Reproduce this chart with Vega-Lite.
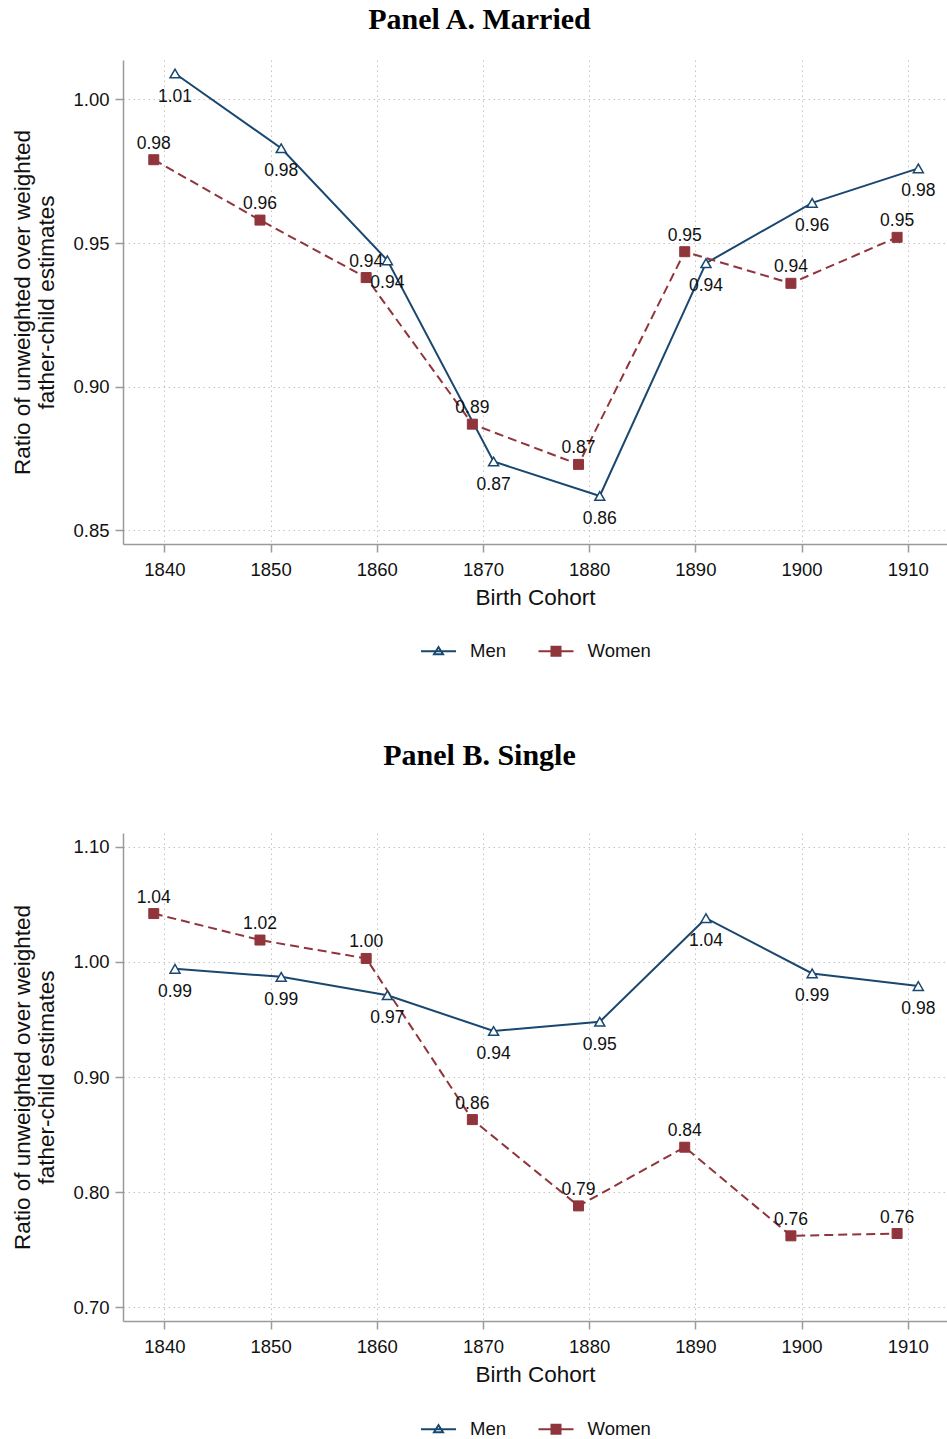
{
  "$schema": "https://vega.github.io/schema/vega-lite/v6.json",
  "padding": {"left": 11, "top": 5, "right": 0, "bottom": 0},
  "background": "white",
  "datasets": {
    "married": [
      {"cohort": 1841, "sex": "Men", "value": 1.009},
      {"cohort": 1851, "sex": "Men", "value": 0.983},
      {"cohort": 1861, "sex": "Men", "value": 0.944},
      {"cohort": 1871, "sex": "Men", "value": 0.874},
      {"cohort": 1881, "sex": "Men", "value": 0.862},
      {"cohort": 1891, "sex": "Men", "value": 0.943},
      {"cohort": 1901, "sex": "Men", "value": 0.964},
      {"cohort": 1911, "sex": "Men", "value": 0.976},
      {"cohort": 1839, "sex": "Women", "value": 0.979},
      {"cohort": 1849, "sex": "Women", "value": 0.958},
      {"cohort": 1859, "sex": "Women", "value": 0.938},
      {"cohort": 1869, "sex": "Women", "value": 0.887},
      {"cohort": 1879, "sex": "Women", "value": 0.873},
      {"cohort": 1889, "sex": "Women", "value": 0.947},
      {"cohort": 1899, "sex": "Women", "value": 0.936},
      {"cohort": 1909, "sex": "Women", "value": 0.952}
    ],
    "single": [
      {"cohort": 1841, "sex": "Men", "value": 0.994},
      {"cohort": 1851, "sex": "Men", "value": 0.987},
      {"cohort": 1861, "sex": "Men", "value": 0.971},
      {"cohort": 1871, "sex": "Men", "value": 0.940},
      {"cohort": 1881, "sex": "Men", "value": 0.948},
      {"cohort": 1891, "sex": "Men", "value": 1.038},
      {"cohort": 1901, "sex": "Men", "value": 0.990},
      {"cohort": 1911, "sex": "Men", "value": 0.979},
      {"cohort": 1839, "sex": "Women", "value": 1.042},
      {"cohort": 1849, "sex": "Women", "value": 1.019},
      {"cohort": 1859, "sex": "Women", "value": 1.003},
      {"cohort": 1869, "sex": "Women", "value": 0.863},
      {"cohort": 1879, "sex": "Women", "value": 0.788},
      {"cohort": 1889, "sex": "Women", "value": 0.839},
      {"cohort": 1899, "sex": "Women", "value": 0.762},
      {"cohort": 1909, "sex": "Women", "value": 0.764}
    ]
  },
  "config": {
    "font": "Liberation Sans",
    "view": {"stroke": null},
    "axis": {
      "labelFont": "Liberation Sans",
      "labelFontSize": 18.5,
      "labelColor": "#111111",
      "titleFont": "Liberation Sans",
      "titleFontSize": 22.5,
      "titleFontWeight": "normal",
      "titleColor": "#111111",
      "domainColor": "#9a9a9a",
      "domainWidth": 1.5,
      "tickColor": "#9a9a9a",
      "tickWidth": 1.5,
      "tickSize": 8,
      "labelPadding": 6,
      "gridColor": "#c4c4c4",
      "gridDash": [1.5, 3.5],
      "gridWidth": 1
    },
    "legend": {
      "labelFont": "Liberation Sans",
      "labelFontSize": 18.5,
      "labelColor": "#111111"
    },
    "title": {
      "font": "Liberation Serif",
      "fontSize": 30,
      "fontWeight": "bold",
      "color": "#000000",
      "anchor": "middle",
      "frame": "bounds"
    }
  },
  "resolve": {
    "scale": {"color": "independent", "shape": "independent", "fill": "independent"},
    "legend": {"color": "independent", "shape": "independent", "fill": "independent"}
  },
  "spacing": 80,
  "vconcat": [
    {
      "title": {"text": "Panel A. Married", "offset": 25},
      "width": 824,
      "height": 484,
      "data": {"name": "married"},
      "encoding": {
        "x": {
          "field": "cohort", "type": "quantitative",
          "scale": {"domain": [1836.1, 1913.7], "nice": false, "zero": false},
          "axis": {"values": [1840, 1850, 1860, 1870, 1880, 1890, 1900, 1910], "format": "d", "title": "Birth Cohort", "titlePadding": 8, "labelPadding": 8}
        },
        "y": {
          "field": "value", "type": "quantitative",
          "scale": {"domain": [0.8453, 1.0137], "nice": false, "zero": false},
          "axis": {"values": [0.85, 0.9, 0.95, 1.0], "format": ".2f", "title": ["Ratio of unweighted over weighted", "father-child estimates"], "titleLineHeight": 24, "titlePadding": 14}
        }
      },
      "layer": [
        {
          "transform": [{"filter": "datum.sex === 'Men'"}],
          "mark": {"type": "line", "strokeWidth": 2, "color": "#1a476f"}
        },
        {
          "transform": [{"filter": "datum.sex === 'Women'"}],
          "mark": {"type": "line", "strokeWidth": 2, "color": "#90353b", "strokeDash": [9, 5]}
        },
        {
          "transform": [{"filter": "datum.sex === 'Men'"}],
          "mark": {"type": "point", "shape": "triangle-up", "size": 100, "opacity": 1, "filled": true, "fill": "#ffffff", "stroke": "#1a476f", "strokeWidth": 1.5}
        },
        {
          "transform": [{"filter": "datum.sex === 'Women'"}],
          "mark": {"type": "point", "shape": "square", "size": 100, "opacity": 1, "filled": true, "fill": "#90353b", "stroke": "#90353b", "strokeWidth": 1}
        },
        {
          "transform": [{"filter": "datum.sex === 'Men'"}],
          "mark": {"type": "text", "dy": 23, "fontSize": 17.5, "font": "Liberation Sans", "color": "#111111"},
          "encoding": {"text": {"field": "value", "type": "quantitative", "format": ".2f"}}
        },
        {
          "transform": [{"filter": "datum.sex === 'Women'"}],
          "mark": {"type": "text", "dy": -16, "fontSize": 17.5, "font": "Liberation Sans", "color": "#111111"},
          "encoding": {"text": {"field": "value", "type": "quantitative", "format": ".2f"}}
        },
        {
          "transform": [{"filter": "false"}],
          "mark": {"type": "point", "opacity": 1, "filled": false},
          "encoding": {
            "color": {
              "field": "sex", "type": "nominal",
              "scale": {"domain": ["Men", "Women"], "range": ["#1a476f", "#90353b"]},
              "legend": {"title": null, "orient": "none", "direction": "horizontal", "legendX": 304.5, "legendY": 580, "symbolSize": 400, "symbolStrokeWidth": 2, "columnPadding": 27.5, "labelOffset": 20.5}
            },
            "shape": {
              "field": "sex", "type": "nominal",
              "scale": {"domain": ["Men", "Women"], "range": ["M-1.75,0H1.75M-0.45,0.3L0,-0.42L0.45,0.3Z", "M-1.75,0H1.75M-0.45,-0.45H0.45V0.45H-0.45Z"]},
              "legend": {"title": null, "orient": "none", "direction": "horizontal", "legendX": 304.5, "legendY": 580, "symbolSize": 400, "symbolStrokeWidth": 2, "columnPadding": 27.5, "labelOffset": 20.5}
            },
            "fill": {
              "field": "sex", "type": "nominal",
              "scale": {"domain": ["Men", "Women"], "range": ["#ffffff", "#90353b"]},
              "legend": {"title": null, "orient": "none", "direction": "horizontal", "legendX": 304.5, "legendY": 580, "symbolSize": 400, "symbolStrokeWidth": 2, "columnPadding": 27.5, "labelOffset": 20.5}
            }
          }
        }
      ]
    },
    {
      "title": {"text": "Panel B. Single", "offset": 62},
      "width": 824,
      "height": 488,
      "data": {"name": "single"},
      "encoding": {
        "x": {
          "field": "cohort", "type": "quantitative",
          "scale": {"domain": [1836.1, 1913.7], "nice": false, "zero": false},
          "axis": {"values": [1840, 1850, 1860, 1870, 1880, 1890, 1900, 1910], "format": "d", "title": "Birth Cohort", "titlePadding": 8, "labelPadding": 8}
        },
        "y": {
          "field": "value", "type": "quantitative",
          "scale": {"domain": [0.688, 1.112], "nice": false, "zero": false},
          "axis": {"values": [0.7, 0.8, 0.9, 1.0, 1.1], "format": ".2f", "title": ["Ratio of unweighted over weighted", "father-child estimates"], "titleLineHeight": 24, "titlePadding": 14}
        }
      },
      "layer": [
        {
          "transform": [{"filter": "datum.sex === 'Men'"}],
          "mark": {"type": "line", "strokeWidth": 2, "color": "#1a476f"}
        },
        {
          "transform": [{"filter": "datum.sex === 'Women'"}],
          "mark": {"type": "line", "strokeWidth": 2, "color": "#90353b", "strokeDash": [9, 5]}
        },
        {
          "transform": [{"filter": "datum.sex === 'Men'"}],
          "mark": {"type": "point", "shape": "triangle-up", "size": 100, "opacity": 1, "filled": true, "fill": "#ffffff", "stroke": "#1a476f", "strokeWidth": 1.5}
        },
        {
          "transform": [{"filter": "datum.sex === 'Women'"}],
          "mark": {"type": "point", "shape": "square", "size": 100, "opacity": 1, "filled": true, "fill": "#90353b", "stroke": "#90353b", "strokeWidth": 1}
        },
        {
          "transform": [{"filter": "datum.sex === 'Men'"}],
          "mark": {"type": "text", "dy": 23, "fontSize": 17.5, "font": "Liberation Sans", "color": "#111111"},
          "encoding": {"text": {"field": "value", "type": "quantitative", "format": ".2f"}}
        },
        {
          "transform": [{"filter": "datum.sex === 'Women'"}],
          "mark": {"type": "text", "dy": -16, "fontSize": 17.5, "font": "Liberation Sans", "color": "#111111"},
          "encoding": {"text": {"field": "value", "type": "quantitative", "format": ".2f"}}
        },
        {
          "transform": [{"filter": "false"}],
          "mark": {"type": "point", "opacity": 1, "filled": false},
          "encoding": {
            "color": {
              "field": "sex", "type": "nominal",
              "scale": {"domain": ["Men", "Women"], "range": ["#1a476f", "#90353b"]},
              "legend": {"title": null, "orient": "none", "direction": "horizontal", "legendX": 304.5, "legendY": 585, "symbolSize": 400, "symbolStrokeWidth": 2, "columnPadding": 27.5, "labelOffset": 20.5}
            },
            "shape": {
              "field": "sex", "type": "nominal",
              "scale": {"domain": ["Men", "Women"], "range": ["M-1.75,0H1.75M-0.45,0.3L0,-0.42L0.45,0.3Z", "M-1.75,0H1.75M-0.45,-0.45H0.45V0.45H-0.45Z"]},
              "legend": {"title": null, "orient": "none", "direction": "horizontal", "legendX": 304.5, "legendY": 585, "symbolSize": 400, "symbolStrokeWidth": 2, "columnPadding": 27.5, "labelOffset": 20.5}
            },
            "fill": {
              "field": "sex", "type": "nominal",
              "scale": {"domain": ["Men", "Women"], "range": ["#ffffff", "#90353b"]},
              "legend": {"title": null, "orient": "none", "direction": "horizontal", "legendX": 304.5, "legendY": 585, "symbolSize": 400, "symbolStrokeWidth": 2, "columnPadding": 27.5, "labelOffset": 20.5}
            }
          }
        }
      ]
    }
  ]
}
